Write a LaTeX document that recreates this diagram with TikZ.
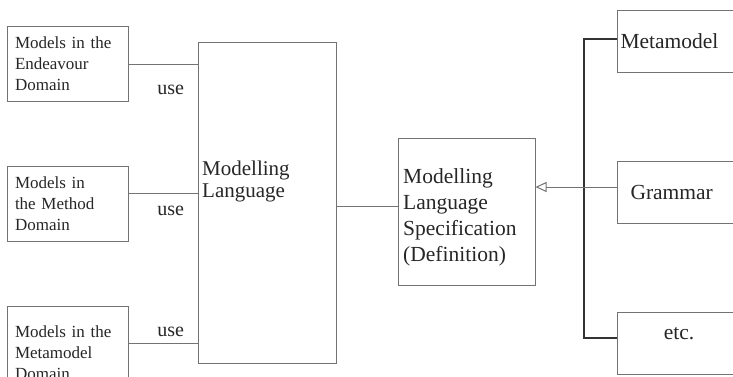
\documentclass[tikz,border=0pt]{standalone}
\usepackage{fontspec}
\setmainfont{Liberation Serif}
\usetikzlibrary{arrows.meta, positioning}

\begin{document}
\begin{tikzpicture}[
    x=1pt, y=-1pt,
    box/.style={rectangle, draw=black!55, line width=1pt, inner sep=0pt, text=black!85},
    modelbox/.style={box, minimum width=121pt, minimum height=75pt,
                     text width=105pt, inner xsep=8pt, align=left,
                     font=\fontsize{17}{21}\selectfont},
    partbox/.style={box, anchor=west, minimum width=123pt, minimum height=62pt,
                    font=\fontsize{21.5}{26}\selectfont},
    boxtext/.style={anchor=west, align=left, inner sep=0pt, text=black!85},
    conn/.style={draw=black!55, line width=1pt},
    bus/.style={draw=black!80, line width=1.6pt},
    uselabel/.style={font=\fontsize{20}{24}\selectfont, inner sep=0pt, text=black!85},
]
    \useasboundingbox (0,0) rectangle (733,376);

    % models on the left
    \node[modelbox] (endv) at (67.5,64) {Models in the\\Endeavour\\Domain};
    \node[modelbox] (meth) at (67.5,203.5) {Models in\\the Method\\Domain};
    \node[modelbox, minimum height=94pt] (mmdl) at (67.5,353) {Models in the\\Metamodel\\Domain};

    % language and its specification
    \node[box, minimum width=138pt, minimum height=321pt] (lang) at (267,202.5) {};
    \node[boxtext, font=\fontsize{21}{22}\selectfont] (langtxt) at (202,181) {Modelling\\Language};
    \node[box, minimum width=137pt, minimum height=147pt] (spec) at (466.5,211.5) {};
    \node[boxtext, font=\fontsize{21.5}{26}\selectfont] (spectxt) at (403,217.5)
        {Modelling\\Language\\Specification\\(Definition)};

    % parts of the specification
    \node[partbox, text width=117pt, inner xsep=3pt, align=left] (meta) at (617,41) {Metamodel};
    \node[partbox, text width=97pt, inner xsep=13pt, align=left] (gram) at (617,192) {Grammar};
    \node[partbox, text depth=20pt] (etcbox) at (617,343) {etc.};

    \draw[conn] (endv.east) -- node[uselabel, pos=0.61, below=21pt] (use1) {use} (endv.east -| lang.west);
    \draw[conn] ([yshift=10.5pt]meth.east) -- node[uselabel, pos=0.61, below=12.5pt] (use2) {use}
        ([yshift=10.5pt]meth.east -| lang.west);
    \draw[conn] ([yshift=10pt]mmdl.east) -- node[uselabel, pos=0.61, above=5.5pt] (use3) {use}
        ([yshift=10pt]mmdl.east -| lang.west);
    \draw[conn] ([yshift=5.5pt]spec.west) -- ([yshift=5.5pt]spec.west -| lang.east);

    \draw[bus] ([yshift=2pt]meta.west) -- ++(-33,0) |- ([yshift=5pt]etcbox.west);
    \draw[conn, -{Triangle[open, length=11pt, width=10pt]}] ([yshift=5pt]gram.west)
        -- ([yshift=5pt]gram.west -| spec.east);
\end{tikzpicture}
\end{document}
